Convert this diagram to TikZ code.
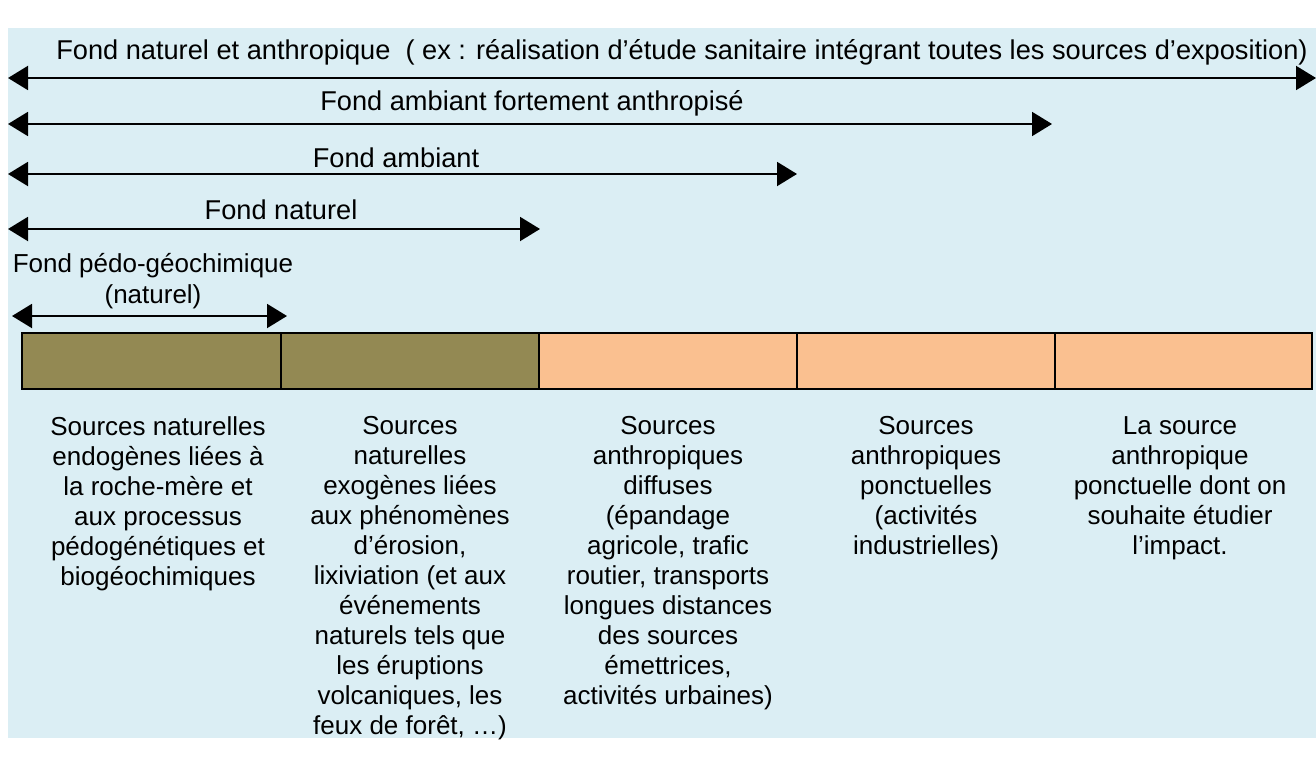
\documentclass[tikz,border=0pt]{standalone}
\usepackage{fontspec}
\setmainfont{Liberation Sans}
\usetikzlibrary{arrows.meta}
\definecolor{fondbleu}{HTML}{DBEEF4}
\definecolor{olive}{HTML}{938953}
\definecolor{peche}{HTML}{FAC090}
\tikzset{
  fleche/.style={line width=1pt,{Triangle[length=10pt,width=12pt]}-{Triangle[length=10pt,width=12pt]}},
  etiq/.style={font=\fontsize{13.6}{15.5}\selectfont,inner sep=0pt},
  texte/.style={font=\fontsize{13}{15}\selectfont,align=center,anchor=north,inner sep=0pt},
  case/.style={draw=black,line width=0.8pt}
}
\begin{document}
\begin{tikzpicture}[x=0.5pt,y=-0.5pt]
\useasboundingbox (0,0) rectangle (1316,765);
\fill[fondbleu] (8,28) rectangle (1316,738);
% fleches des fonds
\coordinate (aG) at (8,78);   \coordinate (aD) at (1316,78);
\coordinate (bG) at (8,124);  \coordinate (bD) at (1052,124);
\coordinate (cG) at (8,174);  \coordinate (cD) at (797,174);
\coordinate (dG) at (8,229);  \coordinate (dD) at (540,229);
\coordinate (eG) at (12,316); \coordinate (eD) at (287,316);
\draw[fleche] (aG)--(aD);
\draw[fleche] (bG)--(bD);
\draw[fleche] (cG)--(cD);
\draw[fleche] (dG)--(dD);
\draw[fleche] (eG)--(eD);
\node[etiq] (fa) at (682,52){Fond naturel et anthropique~ ( ex : réalisation d’étude sanitaire intégrant toutes les sources d’exposition)};
\node[etiq] (fb) at (532,103){Fond ambiant fortement anthropisé};
\node[etiq] (fc) at (396,158){Fond ambiant};
\node[etiq] (fd) at (281,210){Fond naturel};
\node[etiq,font=\fontsize{13}{15.5}\selectfont,align=center] (fe) at (153,281){Fond pédo-géochimique\\(naturel)};
% barre des sources
\draw[case,fill=olive] (22,333) rectangle (281,389);
\draw[case,fill=olive] (281,333) rectangle (539,389);
\draw[case,fill=peche] (539,333) rectangle (797,389);
\draw[case,fill=peche] (797,333) rectangle (1055,389);
\draw[case,fill=peche] (1055,333) rectangle (1312,389);
% textes sous la barre
\node[texte] (s1) at (158,416){Sources naturelles\\endogènes liées à\\la roche-mère et\\aux processus\\pédogénétiques et\\biogéochimiques};
\node[texte] (s2) at (410,416){Sources\\naturelles\\exogènes liées\\aux phénomènes\\d’érosion,\\lixiviation (et aux\\événements\\naturels tels que\\les éruptions\\volcaniques, les\\feux de forêt, …)};
\node[texte] (s3) at (668,416){Sources\\anthropiques\\diffuses\\(épandage\\agricole, trafic\\routier, transports\\longues distances\\des sources\\émettrices,\\activités urbaines)};
\node[texte] (s4) at (926,416){Sources\\anthropiques\\ponctuelles\\(activités\\industrielles)};
\node[texte] (s5) at (1180,416){La source\\anthropique\\ponctuelle dont on\\souhaite étudier\\l’impact.};
\end{tikzpicture}
\end{document}
